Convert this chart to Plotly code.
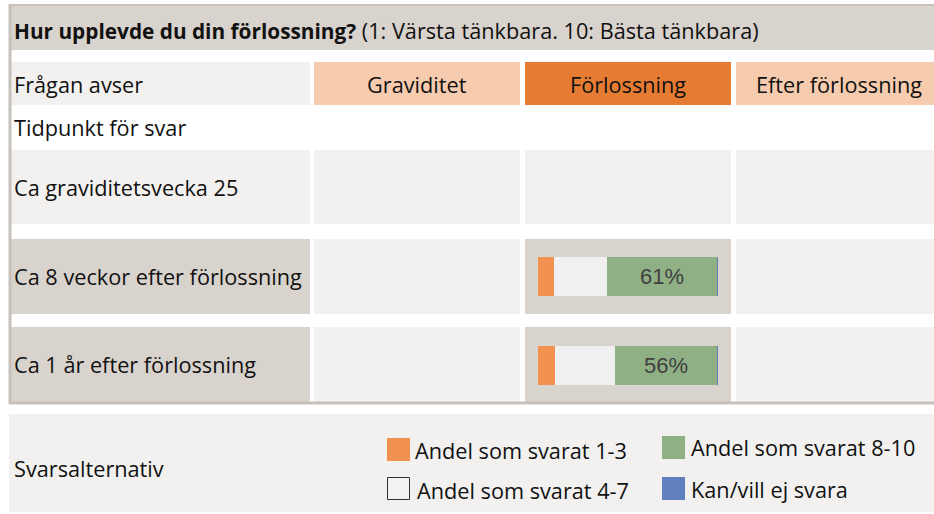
import plotly.graph_objects as go

# ---------------- data ----------------
title_bold = "Hur upplevde du din förlossning?"
title_rest = " (1: Värsta tänkbara. 10: Bästa tänkbara)"
topic_label = "Frågan avser"
topics = ["Graviditet", "Förlossning", "Efter förlossning"]
time_label = "Tidpunkt för svar"
rows = ["Ca graviditetsvecka 25", "Ca 8 veckor efter förlossning", "Ca 1 år efter förlossning"]
share_1_3 = [None, 9.0, 9.4]
share_4_7 = [None, 29.6, 33.6]
share_8_10 = [None, 61.0, 56.6]
share_none = [None, 0.4, 0.4]
pct_labels = ["", "61%", "56%"]
legend_title = "Svarsalternativ"
legend_labels = ["Andel som svarat 1-3", "Andel som svarat 4-7",
                 "Andel som svarat 8-10", "Kan/vill ej svara"]

# ---------------- styling ----------------
W, H = 934, 514
FONT = "Open Sans"
FS = 21.7
C_BEIGE = "#D9D3CD"
C_LIGHT = "#F2F1F0"
C_PEACH = "#F6CBAE"
C_ORANGE_HDR = "#E67C34"
C_BORDER = "#C6C1BC"
C_LOW = "#F39150"
C_MID = "#F0F0F0"
C_HIGH = "#8FB085"
C_NONE = "#5F80BC"
TX = 12

fig = go.Figure()

# bars (stacked horizontal) positioned in the Förlossning column
bar_colors = [C_LOW, C_MID, C_HIGH, C_NONE]
series = [share_1_3, share_4_7, share_8_10, share_none]
for i, (vals, col) in enumerate(zip(series, bar_colors)):
    fig.add_trace(go.Bar(
        y=rows, x=vals, orientation="h", marker=dict(color=col, line=dict(width=0)),
        width=0.43, xaxis="x2", yaxis="y2", showlegend=False, hoverinfo="skip",
        text=pct_labels if i == 2 else None,
        texttemplate="%{text}" if i == 2 else None,
        textposition="inside" if i == 2 else "none",
        insidetextanchor="middle",
        textfont=dict(family="Liberation Sans, Arial", size=22, color="#404040"),
    ))

shapes = []
def rect(x0, y0, x1, y1, fill, line=None, lw=0):
    shapes.append(dict(type="rect", xref="x", yref="y", x0=x0, y0=y0, x1=x1, y1=y1,
                       fillcolor=fill, line=dict(color=line or fill, width=lw),
                       layer="below"))

ann = []
def text(x, y, s, anchor="left", size=FS, color="#111111", family=FONT):
    ann.append(dict(xref="x", yref="y", x=x, y=y, text=s, showarrow=False,
                    xanchor=anchor, yanchor="middle",
                    font=dict(family=family, size=size, color=color)))

# header
rect(11, 6, 934, 50, C_BEIGE)
text(TX, 30, "<b><span style='font-size:20.8px'>" + title_bold + "</span></b>" + title_rest)

# topic row
rect(11, 62, 310, 105, C_LIGHT)
topic_cols = [(314, 520), (525, 731), (736, 942)]
topic_fill = [C_PEACH, C_ORANGE_HDR, C_PEACH]
for (x0, x1), f, t in zip(topic_cols, topic_fill, topics):
    rect(x0, 62, x1, 105, f)
    text((x0 + x1) / 2, 84, t, anchor="center")
text(TX, 84, topic_label)
text(TX, 127, time_label)

# data rows
row_bounds = [(150, 224), (239, 314), (327, 402)]
for r, (y0, y1) in enumerate(row_bounds):
    label_fill = C_LIGHT if r == 0 else C_BEIGE
    rect(11, y0, 310, y1, label_fill)
    for c, (x0, x1) in enumerate(topic_cols):
        fill = C_BEIGE if (r > 0 and c == 1) else C_LIGHT
        rect(x0, y0, x1, y1, fill)
    text(TX, (y0 + y1) / 2, rows[r])

# borders
shapes.append(dict(type="line", xref="x", yref="y", x0=10, x1=934, y0=5, y1=5,
                   line=dict(color=C_BORDER, width=2)))
shapes.append(dict(type="line", xref="x", yref="y", x0=10, x1=10, y0=4, y1=404,
                   line=dict(color=C_BORDER, width=3)))
shapes.append(dict(type="line", xref="x", yref="y", x0=9, x1=934, y0=403, y1=403,
                   line=dict(color=C_BORDER, width=3)))

# legend box
rect(9, 414, 934, 512, C_LIGHT)
text(TX, 468, legend_title)
leg_pos = [(387, 438, 413, 450), (387, 477, 415, 490), (662, 436, 689, 447), (662, 477, 689, 489)]
leg_fill = [C_LOW, C_MID, C_HIGH, C_NONE]
for (sx, sy, tx, ty), f, lab in zip(leg_pos, leg_fill, legend_labels):
    if f == C_MID:
        shapes.append(dict(type="rect", xref="x", yref="y", x0=sx + 0.5, y0=sy + 0.5,
                           x1=sx + 22.5, y1=sy + 22.5, fillcolor="#F2F2F2",
                           line=dict(color="#333333", width=1), layer="below"))
    else:
        rect(sx, sy, sx + 23, sy + 23, f)
    text(tx, ty, lab)

fig.update_layout(
    width=W, height=H, margin=dict(l=0, r=0, t=0, b=0),
    paper_bgcolor="white", plot_bgcolor="rgba(0,0,0,0)",
    xaxis=dict(range=[0, W], domain=[0, 1], visible=False, fixedrange=True),
    yaxis=dict(range=[H, 0], domain=[0, 1], visible=False, fixedrange=True),
    xaxis2=dict(range=[0, 100], domain=[538 / W, 718 / W], anchor="y2",
                visible=False, fixedrange=True),
    yaxis2=dict(domain=[1 - 409.5 / H, 1 - 142.5 / H], anchor="x2",
                categoryorder="array", categoryarray=rows,
                autorange="reversed", visible=False, fixedrange=True),
    barmode="stack", bargap=0,
    shapes=shapes, annotations=ann, showlegend=False,
)
fig.write_html("out.html", config={"displayModeBar": False},
               post_script="document.body.style.margin='0';document.body.style.overflow='hidden';")
